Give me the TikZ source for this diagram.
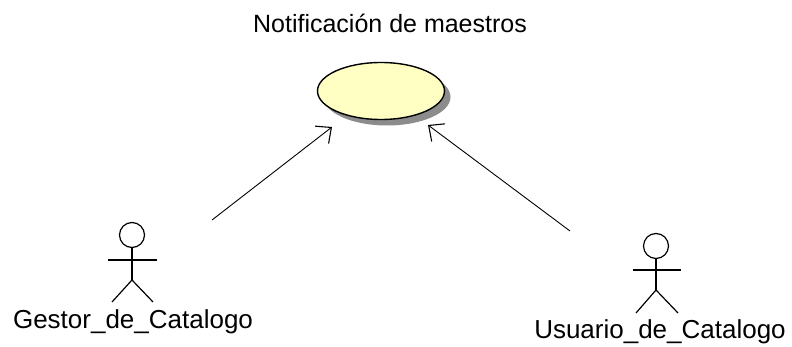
\documentclass[tikz,border=0pt]{standalone}
\usepackage{fontspec}
\setmainfont{Liberation Sans}
\usetikzlibrary{shapes.geometric,shadows,arrows.meta}
\definecolor{ucfill}{RGB}{255,255,196}
\tikzset{
  usecase/.style={ellipse, draw, line width=1.4pt, fill=ucfill, inner sep=0pt,
    minimum width=127pt, minimum height=57pt,
    drop shadow={shadow xshift=6pt, shadow yshift=-6pt, fill=black!45, opacity=1}},
  lbl/.style={font=\fontsize{25}{29}\selectfont, anchor=base, inner sep=0pt},
  actlbl/.style={lbl, font=\fontsize{26}{30}\selectfont},
  head/.style={circle, draw, line width=1.2pt, minimum size=25pt, inner sep=0pt},
  limb/.style={line width=1.2pt},
  assoc/.style={line width=0.9pt, -{Straight Barb[length=12pt,width=22pt,line width=1.1pt]}}
}
\begin{document}
\begin{tikzpicture}[x=1pt,y=-1pt]
    \useasboundingbox (0,0) rectangle (792,347);
    % caso de uso
    \node[usecase] (notif) at (381,91) {};
    \node[lbl] (notiftxt) at (390,33) {Notificación de maestros};
    % actor izquierdo
    \node[head] (gestor) at (132,235) {};
    \draw[limb] (gestor.south) -- (132,280);
    \draw[limb] (108,260) -- (157,260);
    \draw[limb] (132,280) -- (112,302);
    \draw[limb] (132,280) -- (153,302);
    \node[actlbl] (gestortxt) at (133,328) {Gestor\_de\_Catalogo};
    % actor derecho
    \node[head] (usuario) at (656,246) {};
    \draw[limb] (usuario.south) -- (656,290);
    \draw[limb] (633,270) -- (681,270);
    \draw[limb] (656,290) -- (636,313);
    \draw[limb] (656,290) -- (678,313);
    \node[actlbl] (usuariotxt) at (660,338) {Usuario\_de\_Catalogo};
    % asociaciones
    \coordinate (g1) at (212,220);
    \coordinate (g2) at (332,127);
    \coordinate (u1) at (570,231);
    \coordinate (u2) at (428,125);
    \draw[assoc] (g1) -- (g2);
    \draw[assoc] (u1) -- (u2);
\end{tikzpicture}
\end{document}
